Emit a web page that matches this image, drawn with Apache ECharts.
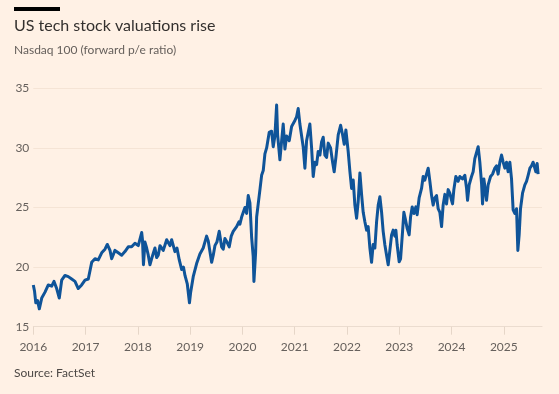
<!DOCTYPE html>
<html>
<head>
<meta charset="utf-8">
<script src="https://cdn.jsdelivr.net/npm/echarts@6/dist/echarts.min.js"></script>
<style>
html,body{margin:0;padding:0;background:#FFF1E5;}
#chart{width:559px;height:394px;}
</style>
</head>
<body>
<div id="chart"></div>
<script>
// Decimal-year dates and Nasdaq 100 forward p/e values
const dates = [
2016.000,2016.023,2016.048,2016.080,2016.115,2016.161,2016.224,2016.287,2016.352,2016.396,
2016.447,2016.497,2016.543,2016.606,2016.669,2016.734,2016.797,2016.860,2016.925,2016.989,
2017.052,2017.117,2017.180,2017.243,2017.308,2017.371,2017.415,2017.467,2017.499,2017.562,
2017.625,2017.690,2017.753,2017.816,2017.881,2017.945,2018.008,2018.073,2018.088,2018.107,
2018.136,2018.168,2018.199,2018.231,2018.270,2018.294,2018.327,2018.359,2018.390,2018.423,
2018.486,2018.551,2018.614,2018.646,2018.709,2018.748,2018.792,2018.837,2018.872,2018.901,
2018.945,2018.987,2019.010,2019.059,2019.124,2019.187,2019.250,2019.315,2019.346,2019.411,
2019.442,2019.474,2019.512,2019.556,2019.602,2019.633,2019.665,2019.704,2019.748,2019.786,
2019.824,2019.889,2019.933,2019.952,2019.985,2020.015,2020.048,2020.080,2020.111,2020.143,
2020.176,2020.206,2020.220,2020.252,2020.272,2020.302,2020.335,2020.367,2020.398,2020.430,
2020.463,2020.512,2020.558,2020.589,2020.621,2020.654,2020.673,2020.717,2020.750,2020.780,
2020.813,2020.845,2020.895,2020.941,2021.004,2021.036,2021.067,2021.099,2021.162,2021.195,
2021.227,2021.290,2021.323,2021.354,2021.386,2021.419,2021.449,2021.482,2021.514,2021.545,
2021.577,2021.610,2021.641,2021.686,2021.725,2021.755,2021.788,2021.832,2021.878,2021.916,
2021.947,2021.979,2022.023,2022.056,2022.088,2022.119,2022.151,2022.184,2022.214,2022.247,
2022.279,2022.310,2022.342,2022.375,2022.405,2022.438,2022.470,2022.501,2022.533,2022.566,
2022.597,2022.629,2022.662,2022.692,2022.725,2022.757,2022.788,2022.820,2022.853,2022.883,
2022.916,2022.935,2022.960,2022.998,2023.025,2023.063,2023.088,2023.113,2023.151,2023.189,
2023.216,2023.247,2023.279,2023.317,2023.342,2023.380,2023.426,2023.457,2023.489,2023.522,
2023.553,2023.585,2023.618,2023.648,2023.681,2023.713,2023.744,2023.776,2023.809,2023.839,
2023.872,2023.904,2023.935,2023.967,2024.000,2024.019,2024.044,2024.082,2024.126,2024.159,
2024.210,2024.254,2024.287,2024.306,2024.337,2024.382,2024.413,2024.445,2024.478,2024.509,
2024.541,2024.574,2024.593,2024.618,2024.642,2024.669,2024.700,2024.746,2024.784,2024.828,
2024.860,2024.891,2024.924,2024.956,2024.987,2025.019,2025.052,2025.082,2025.115,2025.147,
2025.178,2025.210,2025.243,2025.268,2025.293,2025.319,2025.358,2025.402,2025.434,2025.465,
2025.499,2025.530,2025.560,2025.593,2025.612,2025.637,2025.656
];
const peRatio = [
18.5,18.0,17.0,17.2,16.5,17.4,17.9,18.5,18.4,18.8,
18.2,17.4,18.9,19.3,19.2,19.0,18.8,18.2,18.5,18.9,
19.0,20.4,20.7,20.6,21.2,21.5,21.9,21.4,20.7,21.4,
21.2,21.0,21.3,21.7,21.7,22.0,21.8,22.9,22.3,20.2,
22.1,21.6,21.0,20.2,20.8,20.8,21.6,20.8,21.0,21.8,
21.4,22.3,21.8,22.3,21.3,21.6,20.6,19.8,20.0,19.3,
18.6,17.0,17.9,19.2,20.3,21.1,21.6,22.6,22.2,20.4,
21.0,21.8,22.1,23.0,21.7,21.5,22.4,22.1,21.7,22.6,
23.0,23.4,23.8,23.6,24.2,24.1,25.0,24.5,26.0,25.4,
22.5,20.9,18.8,21.2,24.2,25.3,26.5,27.7,28.1,29.5,
30.0,31.3,31.4,30.1,31.0,33.6,31.1,29.0,30.6,32.0,
29.9,31.0,30.6,31.8,32.3,32.6,33.3,32.0,30.1,28.3,
30.6,32.0,30.0,27.6,28.8,28.6,29.7,29.4,30.5,30.9,
29.4,29.2,30.4,30.0,28.8,28.0,29.2,31.1,31.9,31.1,
30.3,31.5,29.7,28.0,26.6,27.3,25.2,24.1,25.5,27.9,
26.1,24.6,23.8,23.1,23.4,21.6,20.4,21.9,21.6,23.8,
25.2,25.9,24.6,23.0,21.85,21.0,20.2,21.4,22.7,23.1,
22.6,23.1,21.85,20.45,20.7,23.0,24.6,24.1,23.25,22.7,
24.2,25.05,24.5,25.05,24.4,25.8,26.6,27.6,27.3,27.2,
28.3,27.2,26.0,25.2,25.8,26.0,24.9,24.6,23.4,25.2,
26.1,25.3,26.5,26.2,25.6,25.3,26.5,27.6,27.2,27.6,
27.4,27.7,26.6,25.6,26.9,27.6,28.0,29.1,29.0,30.1,
28.8,27.0,25.3,27.4,26.6,25.6,26.9,27.6,27.8,28.3,
28.5,27.8,28.8,29.4,28.8,28.3,28.8,28.0,28.8,27.4,
24.8,24.5,24.9,21.4,22.7,24.9,26.2,26.9,27.2,27.7,
28.3,28.5,28.8,28.8,28.0,28.7,27.8
];
const yearTicks = [2016,2017,2018,2019,2020,2021,2022,2023,2024,2025];
const yTicks = [15,20,25,30,35];

const FONT = 'Lato, "Open Sans", sans-serif';
const chart = echarts.init(document.getElementById('chart'), null, {renderer:'canvas'});
chart.setOption({
  backgroundColor: '#FFF1E5',
  animation: false,
  graphic: [
    {type:'rect', left:14, top:7, shape:{width:46, height:4}, style:{fill:'#000000'}},
    {type:'text', left:14, top:18, style:{text:'US tech stock valuations rise', fill:'#33302E', font:'16px ' + FONT}},
    {type:'text', left:14, top:44, style:{text:'Nasdaq 100 (forward p/e ratio)', fill:'#66605C', font:'12px ' + FONT}},
    {type:'text', left:14, top:367, style:{text:'Source: FactSet', fill:'#4D4845', font:'12px ' + FONT}}
  ],
  grid: {left:33.3, right:17, top:88.3, bottom:67.3, containLabel:false},
  xAxis: {
    type:'value', min:2016, max:2025.73, interval:1,
    axisLine:{show:true, lineStyle:{color:'#EBDCCF', width:1}},
    axisTick:{show:true, length:8, customValues: yearTicks, lineStyle:{color:'#E6D6C8'}},
    axisLabel:{customValues: yearTicks, color:'#66605C', fontSize:12, fontFamily:FONT, margin:14,
      formatter: v => String(v)},
    splitLine:{show:false}
  },
  yAxis: {
    type:'value', min:yTicks[0], max:yTicks[yTicks.length-1], interval:5,
    axisLine:{show:false}, axisTick:{show:false},
    axisLabel:{color:'#66605C', fontSize:12, fontFamily:FONT, margin:4},
    splitLine:{show:true, lineStyle:{color:'#F5E4D5', width:1}}
  },
  series: [{
    type:'line',
    data: dates.map((d,i)=>[d, peRatio[i]]),
    showSymbol:false,
    lineStyle:{color:'#0F5499', width:3, join:'round'},
    z:3
  }]
});
</script>
</body>
</html>
